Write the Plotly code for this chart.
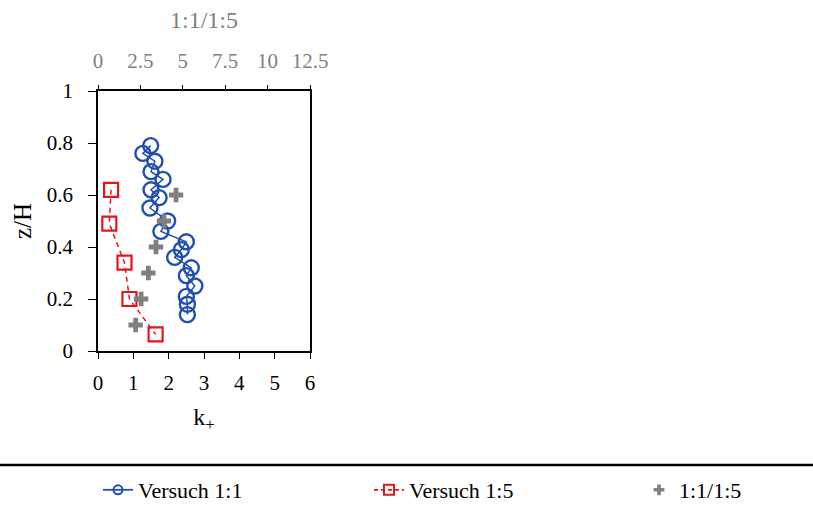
import plotly.graph_objects as go

# Versuch 1:1 (bottom axis k+)
v11_k = [1.49, 1.27, 1.61, 1.50, 1.84, 1.50, 1.73, 1.47, 1.97, 1.78, 2.50, 2.36, 2.17, 2.64, 2.50, 2.74, 2.50, 2.53, 2.53]
v11_z = [0.79, 0.76, 0.73, 0.69, 0.66, 0.62, 0.59, 0.55, 0.50, 0.46, 0.42, 0.39, 0.36, 0.32, 0.29, 0.25, 0.21, 0.18, 0.14]

# Versuch 1:5 (bottom axis k+)
v15_k = [0.37, 0.32, 0.75, 0.89, 1.63]
v15_z = [0.62, 0.49, 0.34, 0.20, 0.064]

# Ratio 1:1/1:5 (top axis)
ratio_v = [4.60, 3.89, 3.42, 2.97, 2.54, 2.22]
ratio_z = [0.6, 0.5, 0.4, 0.3, 0.2, 0.1]

x_ticks = [0, 1, 2, 3, 4, 5, 6]
top_ticks = [0, 2.5, 5, 7.5, 10, 12.5]
top_labels = ["0", "2.5", "5", "7.5", "10", "12.5"]
y_ticks = [0, 0.2, 0.4, 0.6, 0.8, 1]
y_labels = ["0", "0.2", "0.4", "0.6", "0.8", "1"]

FONT = "Liberation Serif, Times New Roman, serif"
W, H = 813, 507
x0, x1 = 98, 310
y0, y1 = 91, 351

BLUE = "#1f4fb0"
RED = "#e8141b"
GREY = "#808080"

fig = go.Figure()
fig.add_trace(go.Scatter(
    x=v11_k, y=v11_z, mode="lines+markers", name="Versuch 1:1", showlegend=False,
    line=dict(color=BLUE, width=1.5),
    marker=dict(symbol="circle-open", size=15, color=BLUE, line=dict(width=2.4))))
fig.add_trace(go.Scatter(
    x=v15_k, y=v15_z, mode="lines+markers", name="Versuch 1:5", showlegend=False,
    line=dict(color=RED, width=1.5, dash="5px,4px"),
    marker=dict(symbol="square-open", size=14, color=RED, line=dict(width=2.2))))
fig.add_trace(go.Scatter(
    x=ratio_v, y=ratio_z, mode="markers", name="1:1/1:5", showlegend=False,
    marker=dict(symbol="cross", size=12, color=GREY, line=dict(width=0)),
    xaxis="x2"))

# legend entries (legend-only, smaller symbols like the reference key)
fig.add_trace(go.Scatter(
    x=[None], y=[None], mode="lines+markers", name="Versuch 1:1", legend="legend",
    line=dict(color=BLUE, width=1.8),
    marker=dict(symbol="circle-open", size=9, color=BLUE, line=dict(width=2))))
fig.add_trace(go.Scatter(
    x=[None], y=[None], mode="lines+markers", name="Versuch 1:5", legend="legend2",
    line=dict(color=RED, width=1.8, dash="4px,3px"),
    marker=dict(symbol="square-open", size=10, color=RED, line=dict(width=2))))
fig.add_trace(go.Scatter(
    x=[None], y=[None], mode="markers", name="1:1/1:5", legend="legend3", xaxis="x2",
    marker=dict(symbol="cross", size=9, color=GREY, line=dict(width=0))))

dom_x = [x0 / W, x1 / W]
dom_y = [1 - y1 / H, 1 - y0 / H]

leg_common = dict(orientation="h", font=dict(family=FONT, size=22, color="black"),
                  bgcolor="rgba(0,0,0,0)", xanchor="left", yanchor="middle")

fig.update_layout(
    width=W, height=H,
    margin=dict(l=0, r=0, t=0, b=0, autoexpand=False),
    paper_bgcolor="white", plot_bgcolor="white",
    showlegend=True,
    font=dict(family=FONT, size=21, color="black"),
    xaxis=dict(domain=dom_x, range=[0, 6], tickvals=x_ticks, showgrid=False, zeroline=False,
               showline=True, linecolor="black", linewidth=1.5, ticks="outside", ticklen=6,
               tickcolor="black", ticklabelstandoff=6, automargin=False,
               tickfont=dict(family=FONT, size=21, color="black"),
               title=dict(text="k<sub>+</sub>", font=dict(family=FONT, size=24, color="black"), standoff=14),
               anchor="y"),
    xaxis2=dict(domain=dom_x, range=[0, 12.5], tickvals=top_ticks, ticktext=top_labels,
                overlaying="x", side="top", anchor="y", showgrid=False, zeroline=False,
                showline=True, linecolor="black", linewidth=1.5, ticks="outside", ticklen=4,
                tickcolor="black", ticklabelstandoff=9, automargin=False,
                tickfont=dict(family=FONT, size=21, color=GREY),
                title=dict(text="1:1/1:5", font=dict(family=FONT, size=24, color=GREY), standoff=13)),
    yaxis=dict(domain=dom_y, range=[0, 1], tickvals=y_ticks, ticktext=y_labels, showgrid=False,
               zeroline=False, showline=True, mirror=True, linecolor="black", linewidth=1.5,
               ticks="outside", ticklen=8, tickcolor="black", ticklabelstandoff=11,
               automargin=False,
               tickfont=dict(family=FONT, size=21, color="black"),
               title=dict(text="z/H", font=dict(family=FONT, size=25, color="black"), standoff=8)),
    legend=dict(x=98 / W, y=1 - 490 / H, **leg_common),
    legend2=dict(x=369 / W, y=1 - 490 / H, **leg_common),
    legend3=dict(x=639 / W, y=1 - 490 / H, **leg_common),
    shapes=[dict(type="line", xref="paper", yref="paper", x0=0, x1=1,
                 y0=1 - 465 / H, y1=1 - 465 / H, line=dict(color="black", width=2.5))],
)

fig.write_html("out.html", config={"displayModeBar": False},
               post_script="document.body.style.margin='0';document.body.style.overflow='hidden';")
